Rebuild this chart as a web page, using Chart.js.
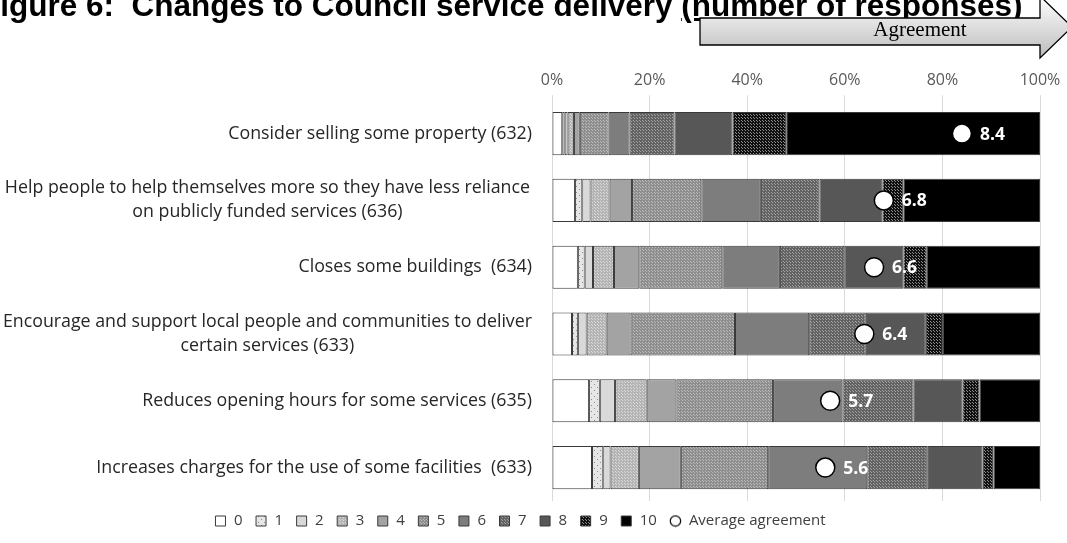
<!DOCTYPE html>
<html>
<head>
<meta charset="utf-8">
<script src="https://cdn.jsdelivr.net/npm/chart.js@4.4.1/dist/chart.umd.min.js"></script>
<style>
  html, body { margin: 0; padding: 0; background: #fff; overflow: hidden; }
  #wrap { position: relative; width: 1067px; height: 543px; overflow: hidden; }
  #chartBox { position: absolute; left: 0; top: 0; width: 1067px; height: 543px; }
  #title {
    position: absolute; left: -19px; top: -13px; white-space: nowrap;
    font: bold 31.5px "Liberation Sans", Arial, sans-serif; color: #000;
  }
  #title u { text-decoration: underline; }
  #arrow { position: absolute; left: 0; top: 0; }
</style>
</head>
<body>
<div id="wrap">
  <div id="chartBox"><canvas id="c"></canvas></div>
  <div id="title">Figure 6:&nbsp; Changes to Council service delivery <u>(number of responses)</u></div>
  <svg id="arrow" width="1067" height="70" xmlns="http://www.w3.org/2000/svg">
    <defs>
      <linearGradient id="arrowFill" x1="0" y1="0" x2="0" y2="1">
        <stop offset="0" stop-color="#ffffff"/>
        <stop offset="1" stop-color="#bcbcbc"/>
      </linearGradient>
    </defs>
    <polygon points="700,18 1040,18 1040,-4 1072,27 1040,58 1040,45 700,45"
             fill="url(#arrowFill)" stroke="#000" stroke-width="1.3"/>
    <text x="920" y="36" text-anchor="middle" font-family="Liberation Serif, Times New Roman, serif" font-size="21" fill="#000">Agreement</text>
  </svg>
</div>
<script>
// Statements (multi-line ones are arrays of lines)
const categories = [
  'Consider selling some property (632)',
  ['Help people to help themselves more so they have less reliance', 'on publicly funded services (636)'],
  'Closes some buildings  (634)',
  ['Encourage and support local people and communities to deliver', 'certain services (633)'],
  'Reduces opening hours for some services (635)',
  'Increases charges for the use of some facilities  (633)'
];

// Agreement score labels 0..10
const scoreLabels = ['0', '1', '2', '3', '4', '5', '6', '7', '8', '9', '10'];

// Percentage of responses giving each score, one array per score
const score0  = [2.1, 4.7, 5.3, 4.1, 7.6, 8.2];
const score1  = [0.5, 1.5, 1.4, 1.2, 2.2, 2.3];
const score2  = [0.6, 1.7, 1.7, 1.8, 3.1, 1.5];
const score3  = [1.3, 3.9, 4.3, 4.1, 6.5, 5.8];
const score4  = [1.2, 4.6, 5.2, 4.9, 6.1, 8.6];
const score5  = [5.9, 14.2, 17.0, 21.4, 19.8, 17.9];
const score6  = [4.3, 12.2, 11.8, 15.2, 14.2, 20.3];
const score7  = [9.2, 12.0, 13.2, 11.6, 14.6, 12.4];
const score8  = [11.9, 12.9, 12.1, 12.3, 10.0, 11.2];
const score9  = [11.0, 4.3, 4.8, 3.5, 3.5, 2.3];
const score10 = [52.0, 28.0, 23.2, 19.9, 12.4, 9.5];
const scoreSeries = [score0, score1, score2, score3, score4, score5, score6, score7, score8, score9, score10];

// Average agreement (0-10 scale)
const averages = [8.4, 6.8, 6.6, 6.4, 5.7, 5.6];

// Percent axis ticks
const percentTicks = [0, 20, 40, 60, 80, 100];

const FONT = '"Open Sans", "Noto Sans", sans-serif';
const canvas = document.getElementById('c');
const ctx0 = canvas.getContext('2d');

// Dotted fill used for the odd scores
function dotted(bg, dot, step, size) {
  const t = document.createElement('canvas');
  t.width = step; t.height = step;
  const g = t.getContext('2d');
  g.fillStyle = bg; g.fillRect(0, 0, step, step);
  g.fillStyle = dot;
  g.fillRect(0, 0, size, size);
  g.fillRect(Math.floor(step / 2), Math.floor(step / 2), size, size);
  return ctx0.createPattern(t, 'repeat');
}

const fills = [
  '#ffffff',
  dotted('#e6e6e6', '#8c8c8c', 6, 1),
  '#d9d9d9',
  dotted('#b4b4b4', '#dadada', 3, 1),
  '#a3a3a3',
  dotted('#8e8e8e', '#bdbdbd', 3, 1),
  '#7d7d7d',
  dotted('#636363', '#a2a2a2', 3, 1),
  '#575757',
  dotted('#111111', '#8f8f8f', 3, 1),
  '#000000'
];

// Small open circle for the legend entry of the average
const legendCircle = (() => {
  const t = document.createElement('canvas');
  t.width = 13; t.height = 13;
  const g = t.getContext('2d');
  g.beginPath();
  g.arc(6.5, 6.5, 5.2, 0, Math.PI * 2);
  g.fillStyle = '#ffffff'; g.fill();
  g.lineWidth = 1.2; g.strokeStyle = '#000000'; g.stroke();
  return t;
})();

const datasets = scoreSeries.map((vals, i) => ({
  label: scoreLabels[i],
  data: vals,
  backgroundColor: fills[i],
  borderColor: '#3a3a3a',
  borderWidth: 1,
  borderSkipped: false,
  categoryPercentage: 0.645,
  barPercentage: 1,
  pointStyle: 'rect',
  order: 1
}));

const AVG_INDEX = datasets.length;
datasets.push({
  type: 'line',
  label: 'Average agreement',
  data: averages.map(a => a * 10),
  showLine: false,
  stack: 'avg',
  pointStyle: 'circle',
  pointRadius: 9.5,
  pointHoverRadius: 9.5,
  pointBackgroundColor: '#ffffff',
  pointBorderColor: '#000000',
  pointBorderWidth: 1.5,
  backgroundColor: '#ffffff',
  borderColor: '#000000',
  borderWidth: 1.2,
  order: 0
});

// White value text beside each average marker
const avgLabels = {
  id: 'avgLabels',
  afterDatasetsDraw(chart) {
    const meta = chart.getDatasetMeta(AVG_INDEX);
    const c = chart.ctx;
    c.save();
    c.font = 'bold 17.5px ' + FONT;
    c.fillStyle = '#ffffff';
    c.textAlign = 'left';
    c.textBaseline = 'middle';
    meta.data.forEach((pt, i) => {
      c.fillText(averages[i].toFixed(1), pt.x + 18, pt.y + 1);
    });
    c.restore();
  }
};

const isMulti = i => Array.isArray(categories[i]);
const LABEL_FONT = { family: FONT, size: 17.8, lineHeight: 1.35 };

new Chart(canvas, {
  type: 'bar',
  data: { labels: categories, datasets },
  plugins: [avgLabels],
  options: {
    indexAxis: 'y',
    responsive: true,
    maintainAspectRatio: false,
    animation: false,
    layout: { padding: { left: 0, right: 27, top: 66, bottom: 4.5 } },
    scales: {
      x: {
        position: 'top',
        stacked: true,
        min: 0, max: 100,
        afterBuildTicks(scale) { scale.ticks = percentTicks.map(v => ({ value: v })); },
        ticks: {
          callback: v => v + '%',
          color: '#595959',
          font: { family: FONT, size: 16 },
          padding: 5,
          maxRotation: 0
        },
        grid: { color: '#d9d9d9', lineWidth: 1, tickLength: 5, drawTicks: true },
        border: { display: false }
      },
      // category axis of the bars: single-line statements, right-aligned
      y: {
        stacked: true,
        position: 'right',
        grid: { display: false, drawTicks: false },
        border: { display: false },
        ticks: {
          callback: (v, i) => isMulti(i) ? '' : categories[i],
          color: '#262626',
          font: LABEL_FONT,
          mirror: true,
          padding: -508,
          crossAlign: 'near'
        },
        afterFit(scale) { scale.width = 0; }
      },
      // two-line statements, centred in the label column
      y2: {
        type: 'category',
        position: 'left',
        labels: categories,
        offset: true,
        grid: { display: false, drawTicks: false, offset: true },
        border: { display: false },
        ticks: {
          callback: (v, i) => isMulti(i) ? categories[i] : '',
          color: '#262626',
          font: LABEL_FONT,
          padding: 20,
          crossAlign: 'center'
        },
        afterFit(scale) { scale.width = 552; }
      }
    },
    plugins: {
      title: { display: false },
      tooltip: { enabled: false },
      legend: {
        position: 'bottom',
        labels: {
          usePointStyle: true,
          boxWidth: 12,
          boxHeight: 10,
          padding: 12.5,
          color: '#404040',
          font: { family: FONT, size: 15 },
          sort: (a, b) => a.datasetIndex - b.datasetIndex,
          generateLabels(chart) {
            const items = Chart.defaults.plugins.legend.labels.generateLabels(chart);
            items.forEach(it => {
              if (it.datasetIndex === AVG_INDEX) it.pointStyle = legendCircle;
            });
            return items;
          }
        }
      }
    }
  }
});
</script>
</body>
</html>
